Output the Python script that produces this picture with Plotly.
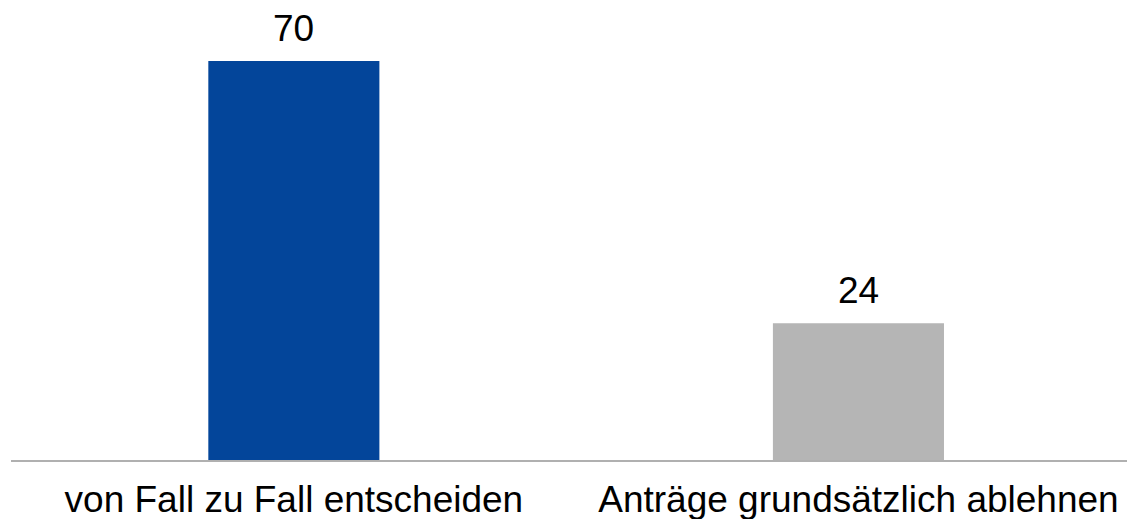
import plotly.graph_objects as go

categories = ["von Fall zu Fall entscheiden", "Anträge grundsätzlich ablehnen"]
values = [70, 24]
colors = ["#03459A", "#B5B5B5"]

fig = go.Figure()
fig.add_trace(
    go.Bar(
        x=categories,
        y=values,
        marker_color=colors,
        marker_line_width=0,
        width=0.303,
    )
)
# value labels above bars
for cat, val in zip(categories, values):
    fig.add_annotation(
        x=cat,
        y=val,
        text=str(val),
        showarrow=False,
        yanchor="bottom",
        yshift=10,
        font=dict(size=37, color="#000000"),
    )

fig.update_layout(
    width=1135,
    height=519,
    plot_bgcolor="white",
    paper_bgcolor="white",
    font=dict(family="Liberation Sans, Arial, sans-serif", size=37, color="#000000"),
    margin=dict(l=3, r=0, t=0, b=67),
    showlegend=False,
    xaxis=dict(
        range=[-0.501, 1.504],
        showline=True,
        linecolor="#B0B0B0",
        linewidth=2,
        ticks="",
        showgrid=False,
        automargin=False,
        ticklabelstandoff=6,
        tickfont=dict(size=37),
    ),
    yaxis=dict(range=[0, 79.3], visible=False, showgrid=False, zeroline=False, automargin=False),
)
fig.write_html("out.html")
